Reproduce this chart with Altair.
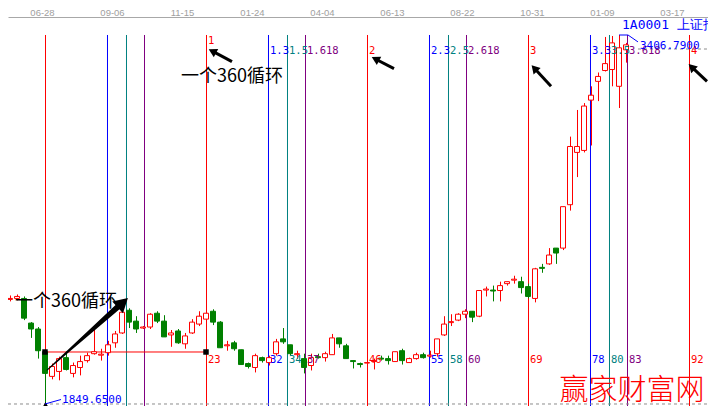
import altair as alt
import pandas as pd

RED, BLUE, TEAL, PURPLE, GREEN = "#ff0000", "#0000ff", "#008080", "#800080", "#008000"
KIND_COLOR = {"0": RED, "0.382": BLUE, "0.5": TEAL, "0.618": PURPLE}

# ---------------- weekly candles (week index 0 = 2013-06-28) ----------------
week = list(range(-6, 84))
opens = [2253.5, 2291.0, 2295.1, 2295.1, 2191.1, 2166.1, 2070.3, 1966.2, 1987.0, 2045.3,
         1978.7, 2003.7, 2032.8, 2062.0, 2055.7, 2066.2, 2107.8, 2149.4, 2245.2, 2199.4,
         2170.2, 2174.4, 2232.7, 2199.4, 2141.1, 2157.8, 2103.6, 2149.4, 2186.9, 2207.7,
         2241.0, 2195.2, 2095.3, 2107.8, 2078.6, 2020.4, 2003.7, 2045.3, 2024.5, 2062.0,
         2124.4, 2099.5, 2057.8, 2041.2, 2012.0, 2049.5, 2045.3, 2057.8, 2128.6, 2095.3,
         2032.8, 2020.4, 2022.4, 2028.7, 2043.2, 2041.2, 2028.7, 2074.5, 2024.5, 2041.2,
         2057.8, 2051.6, 2062.0, 2141.1, 2193.1, 2203.6, 2228.5, 2241.0, 2220.2, 2330.5,
         2330.5, 2328.5, 2357.6, 2372.2, 2365.9, 2345.1, 2295.1, 2426.3, 2440.9, 2507.5,
         2507.5, 2690.7, 2911.3, 2919.7, 3132.0, 3211.1, 3256.9, 3261.1, 3190.3, 3344.3]
highs = [2295.1, 2307.6, 2311.8, 2303.5, 2195.2, 2174.4, 2078.6, 2020.4, 2049.5, 2070.3,
         2024.5, 2053.7, 2066.2, 2166.1, 2082.8, 2116.1, 2157.8, 2249.3, 2253.5, 2220.2,
         2178.6, 2232.7, 2241.0, 2224.4, 2161.9, 2166.1, 2149.4, 2207.7, 2241.0, 2245.2,
         2249.3, 2199.4, 2116.1, 2116.1, 2078.6, 2024.5, 2062.0, 2049.5, 2053.7, 2124.4,
         2170.2, 2099.5, 2074.5, 2062.0, 2062.0, 2062.0, 2070.3, 2145.3, 2128.6, 2103.6,
         2032.8, 2024.5, 2028.7, 2041.2, 2053.7, 2053.7, 2070.3, 2082.8, 2045.3, 2066.2,
         2066.2, 2074.5, 2124.4, 2220.2, 2228.5, 2232.7, 2249.3, 2241.0, 2328.5, 2345.1,
         2349.3, 2365.9, 2365.9, 2390.9, 2386.7, 2357.6, 2424.2, 2440.9, 2507.5, 2507.5,
         2682.4, 2978.0, 3090.4, 3119.5, 3190.3, 3248.6, 3398.5, 3402.6, 3406.8, 3373.5]
lows = [2211.9, 2282.7, 2286.8, 2203.6, 2128.6, 2041.2, 1849.65, 1953.7, 1949.6, 1991.2,
        1962.1, 1970.4, 2024.5, 2057.8, 2032.8, 2053.7, 2087.0, 2145.3, 2170.2, 2149.4,
        2166.1, 2166.1, 2191.1, 2132.8, 2091.1, 2103.6, 2082.8, 2145.3, 2178.6, 2199.4,
        2182.7, 2087.0, 2074.5, 2074.5, 2016.2, 1999.5, 1982.9, 2024.5, 2012.0, 2053.7,
        2103.6, 2053.7, 2041.2, 1978.7, 1991.2, 2041.2, 2028.7, 2057.8, 2087.0, 2041.2,
        1999.5, 2003.7, 2016.2, 1995.4, 2032.8, 2016.2, 2028.7, 2016.2, 2024.5, 2037.0,
        2041.2, 2045.3, 2049.5, 2136.9, 2178.6, 2199.4, 2211.9, 2195.2, 2216.0, 2303.5,
        2282.7, 2282.7, 2349.3, 2357.6, 2316.0, 2295.1, 2278.5, 2403.4, 2436.7, 2440.9,
        2499.2, 2665.7, 2807.3, 2911.3, 2940.5, 3127.8, 3252.8, 3190.3, 3098.7, 3290.2]
closes = [2282.7, 2295.1, 2303.5, 2211.9, 2166.1, 2074.5, 1978.7, 2007.9, 2041.2, 1995.4,
          2012.0, 2028.7, 2053.7, 2070.3, 2059.9, 2099.5, 2145.3, 2236.9, 2195.2, 2166.1,
          2174.4, 2228.5, 2199.4, 2132.8, 2149.4, 2107.8, 2136.9, 2195.2, 2220.2, 2232.7,
          2195.2, 2087.0, 2099.5, 2082.8, 2016.2, 2007.9, 2053.7, 2032.8, 2045.3, 2112.0,
          2112.0, 2062.0, 2062.0, 2003.7, 2045.3, 2045.3, 2062.0, 2128.6, 2103.6, 2041.2,
          2028.7, 2016.2, 2024.5, 2032.8, 2039.1, 2032.8, 2070.3, 2032.8, 2041.2, 2057.8,
          2045.3, 2055.7, 2124.4, 2186.9, 2197.3, 2228.5, 2241.0, 2216.0, 2328.5, 2334.7,
          2326.4, 2349.3, 2365.9, 2376.3, 2340.9, 2303.5, 2420.1, 2422.1, 2478.3, 2486.7,
          2682.4, 2936.3, 2936.3, 3107.0, 3152.8, 3231.9, 3286.1, 3373.5, 3352.7, 3365.2]

# ---------------- axis labels ----------------
date_ticks = [0, 10, 20, 30, 40, 50, 60, 70, 80, 90]
date_labels = ["06-28", "09-06", "11-15", "01-24", "04-04", "06-13", "08-22", "10-31", "01-09", "03-17"]

# ---------------- Fibonacci time lines ----------------
fib_pos = [0, 8.8571, 11.5714, 14.1429, 23, 31.8571, 34.5714, 37.1429, 46, 54.8571, 57.5714, 60.1429,
           69, 77.8571, 80.5714, 83.1429, 92]
fib_kind = ["0", "0.382", "0.5", "0.618"] * 4 + ["0"]
fib_top_text = ["", "", "", "", "1", "1.3", "1.5", "1.618", "2", "2.3", "2.5", "2.618",
                "3", "3.3", "3.5", "3.618", "4"]
fib_top_price = [0, 0, 0, 0, 3381.5] + [3339.3] * 12
fib_bottom_text = ["", "", "", "", "23", "32", "34", "37", "46", "55", "58", "60",
                   "69", "78", "80", "83", "92"]
low_value, high_value = 1849.65, 3406.79

# ---------------- scales ----------------
X_MIN, X_MAX = -37 / 7, 663 / 7
Y_MIN, Y_MAX = 1841.21, 3482.75
line_top, view_bottom = 3406.8, Y_MIN
xscale = alt.Scale(domain=[X_MIN, X_MAX], nice=False, zero=False, padding=0)
yscale = alt.Scale(domain=[Y_MIN, Y_MAX], nice=False, zero=False, padding=0)
label_expr = "[" + ",".join(f"'{d}'" for d in date_labels) + "][round(datum.value/10)]"
xaxis = alt.Axis(orient="top", values=date_ticks, labelExpr=label_expr, grid=False, ticks=False,
                 tickSize=0, domain=True, domainColor="#a8a8a8", labelColor="#a0a0a0",
                 labelFont="Liberation Sans", labelFontSize=9.5, labelPadding=0, labelOffset=-3,
                 title=None, labelFlush=False, labelOverlap=False)


def X(f):
    return alt.X(f, type="quantitative", scale=xscale, axis=xaxis)


def Y(f):
    return alt.Y(f, type="quantitative", scale=yscale, axis=None)


cdf = pd.DataFrame({"idx": week, "open": opens, "high": highs, "low": lows, "close": closes})
up = cdf["close"] >= cdf["open"]
cdf["col"] = [RED if u else GREEN for u in up]
cdf["fill"] = ["#ffffff" if u else GREEN for u in up]

fdf = pd.DataFrame({"pos": fib_pos, "kind": fib_kind, "top": line_top, "bottom": view_bottom})
fdf["color"] = fdf["kind"].map(KIND_COLOR)
tdf = fdf.assign(text=fib_top_text, ty=fib_top_price)
tdf = tdf[tdf["text"] != ""]
bdf = fdf.assign(text=fib_bottom_text, ty=2037.4)
bdf = bdf[bdf["text"] != ""]

fib_rules = alt.Chart(fdf).mark_rule(strokeWidth=1, xOffset=0.5).encode(
    x=X("pos"), y=Y("top"), y2=alt.Y2("bottom"), color=alt.Color("color:N", scale=None))

dash_df = pd.DataFrame({"x": [X_MIN, 84.71], "x2": [X_MAX, X_MAX], "y": [low_value, 3347.7]})
dashes = alt.Chart(dash_df).mark_rule(color="#8c8c8c", strokeDash=[3, 3], strokeWidth=1).encode(
    x=X("x"), x2=alt.X2("x2"), y=Y("y"))

hl_df = pd.DataFrame({"x": [0], "x2": [23], "y": [2069.1]})
hline = alt.Chart(hl_df).mark_rule(color=RED, strokeWidth=1).encode(x=X("x"), x2=alt.X2("x2"), y=Y("y"))

wicks = alt.Chart(cdf).mark_rule(strokeWidth=1, xOffset=0.5).encode(
    x=X("idx"), y=Y("low"), y2=alt.Y2("high"), color=alt.Color("col:N", scale=None))
bodies = alt.Chart(cdf).mark_bar(size=5, strokeWidth=1).encode(
    x=X("idx"), y=Y("open"), y2=alt.Y2("close"),
    fill=alt.Fill("fill:N", scale=None), stroke=alt.Stroke("col:N", scale=None))

sq_df = pd.DataFrame({"x": [0, 23], "y": [2069.1, 2069.1]})
squares = alt.Chart(sq_df).mark_square(size=30, color="#000000", opacity=1).encode(x=X("x"), y=Y("y"))
tri_df = pd.DataFrame({"x": [0.07], "y": [1843.5]})
tri = alt.Chart(tri_df).mark_point(shape="triangle-up", filled=True, size=60, color="#000000",
                                   opacity=1).encode(x=X("x"), y=Y("y"))

con_df = pd.DataFrame({"g": ["lo", "lo", "hi", "hi", "hi"], "o": [0, 1, 0, 1, 2],
                       "x": [0, 2.29, 82, 83.29, 84.71],
                       "y": [low_value, 1868.6, high_value, high_value, 3377.7]})
connectors = alt.Chart(con_df).mark_line(color=BLUE, strokeWidth=1).encode(
    x=X("x"), y=Y("y"), detail="g:N", order="o:Q")

top_lbl = alt.Chart(tdf).mark_text(align="left", baseline="middle", dx=2, font="DejaVu Sans Mono",
                                   fontSize=10.5).encode(
    x=X("pos"), y=Y("ty"), text="text:N", color=alt.Color("color:N", scale=None))
bot_lbl = alt.Chart(bdf).mark_text(align="left", baseline="middle", dx=2, font="DejaVu Sans Mono",
                                   fontSize=10.5).encode(
    x=X("pos"), y=Y("ty"), text="text:N", color=alt.Color("color:N", scale=None))

val_df = pd.DataFrame({"x": [2.43, 85.0], "y": [1866.5, 3360.4],
                       "text": [f"{low_value:.4f}", f"{high_value:.4f}"]})
val_lbl = alt.Chart(val_df).mark_text(align="left", baseline="middle", font="DejaVu Sans Mono",
                                      fontSize=11, color=BLUE).encode(x=X("x"), y=Y("y"), text="text:N")

head_df = pd.DataFrame({"x": [82.43], "y": [3449.0], "text": ["1A0001 上证指数"]})
head_lbl = alt.Chart(head_df).mark_text(align="left", baseline="middle", font="DejaVu Sans Mono",
                                        fontSize=13, color=BLUE).encode(x=X("x"), y=Y("y"), text="text:N")

note_df = pd.DataFrame({"x": [19.43, -4.29], "y": [3229.6, 2280.1], "text": ["一个360循环", "一个360循环"]})
notes = alt.Chart(note_df).mark_text(align="left", baseline="middle", font="Noto Sans CJK SC",
                                     fontSize=18, color="#000000").encode(x=X("x"), y=Y("y"), text="text:N")

wm_df = pd.DataFrame({"x": [83.86], "y": [1906.0], "text": ["赢家财富网"]})
watermark = alt.Chart(wm_df).mark_text(align="center", baseline="middle", font="Noto Sans CJK SC",
                                       fontSize=29, fontWeight=300, color=RED).encode(
    x=X("x"), y=Y("y"), text="text:N")

trail_df = pd.DataFrame({"x": [0.29, 10.86], "y": [1993.1, 2271.6], "w": [1, 6], "o": [0, 1]})
big_shaft = alt.Chart(trail_df).mark_trail(color="#000000").encode(
    x=X("x"), y=Y("y"), size=alt.Size("w:Q", scale=None), order="o:Q")

heads_df = pd.DataFrame({"x": [11.11, 23.91, 47.2, 69.91, 92.37],
                         "y": [2277.1, 3338.5, 3305.6, 3266.5, 3271.9],
                         "angle": [48, 298, 298, 318, 314],
                         "s": [256, 90, 90, 90, 90]})
heads = alt.Chart(heads_df).mark_point(shape="triangle-up", filled=True, color="#000000", opacity=1).encode(
    x=X("x"), y=Y("y"), angle=alt.Angle("angle:Q", scale=None), size=alt.Size("s:Q", scale=None))

shaft_df = pd.DataFrame({"x": [23.91, 47.2, 69.91, 92.37], "x2": [26.71, 49.86, 72.29, 94.57],
                         "y": [3338.5, 3305.6, 3266.5, 3271.9], "y2": [3294.4, 3265.2, 3190.3, 3211.1]})
shafts = alt.Chart(shaft_df).mark_rule(color="#000000", strokeWidth=3).encode(
    x=X("x"), x2=alt.X2("x2"), y=Y("y"), y2=alt.Y2("y2"))

chart = alt.layer(
    fib_rules, dashes, hline, wicks, bodies, squares, tri, connectors,
    top_lbl, bot_lbl, val_lbl, head_lbl, notes, watermark, big_shaft, heads, shafts
).properties(
    width=700, height=389,
    padding={"top": 9, "left": 0, "right": 0, "bottom": 0},
    autosize=alt.AutoSizeParams(type="none"),
    background="#ffffff",
).configure_view(stroke=None)

chart.save("out.html", embed_options={"renderer": "svg", "actions": False})
